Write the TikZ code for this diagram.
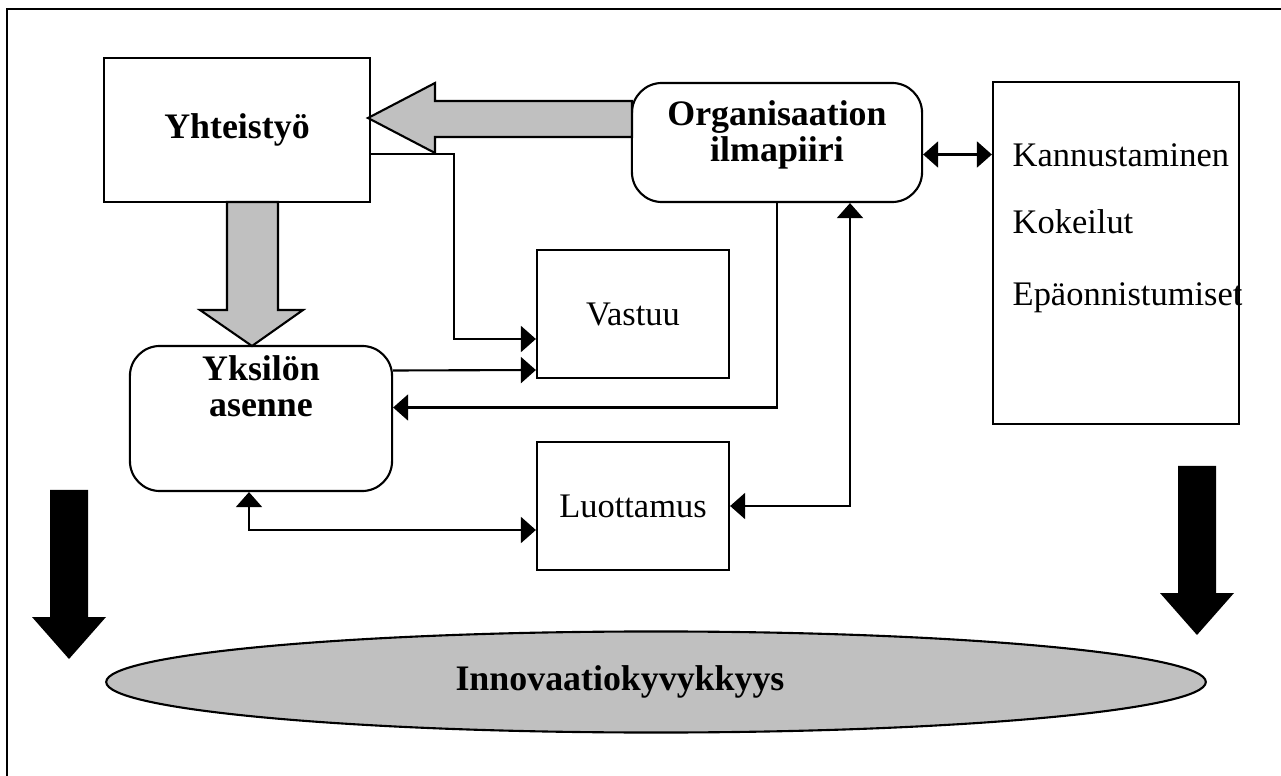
\documentclass[tikz,border=0pt]{standalone}
\usepackage{fontspec}
\setmainfont{Liberation Serif}
\usetikzlibrary{shapes.geometric, arrows.meta, positioning, calc}
\definecolor{arrowgray}{RGB}{192,192,192}

\begin{document}
\begin{tikzpicture}[
        x=0.01cm, y=-0.01cm,
        every node/.style={font=\fontsize{9.8}{12}\selectfont},
        box/.style={rectangle, draw, line width=0.6pt, inner sep=0pt},
        rbox/.style={box, rounded corners=0.3cm},
        title/.style={font=\fontsize{10.2}{10.2}\selectfont\bfseries, align=center},
        item/.style={anchor=west, inner sep=0pt},
        link/.style={line width=0.6pt, -{Triangle[length=0.15cm, width=0.26cm]}},
        both/.style={line width=0.6pt, {Triangle[length=0.15cm, width=0.26cm]}-{Triangle[length=0.15cm, width=0.26cm]}},
        grayarrow/.style={draw, line width=0.6pt, fill=arrowgray},
        blackarrow/.style={fill=black}
    ]
        \useasboundingbox (0,0) rectangle (1281,776);
        \draw[line width=0.8pt] (7,800) |- (1300,9);

        \node[box, minimum width=2.66cm, minimum height=1.44cm] (yht) at (237,130) {};
        \node[title] (yhtT) at (237,130) {Yhteistyö};
        \node[rbox, minimum width=2.90cm, minimum height=1.19cm] (org) at (777,142.5) {};
        \node[title] (orgT) at (777,135) {Organisaation\\ilmapiiri};
        \node[box, minimum width=2.46cm, minimum height=3.42cm] (kann) at (1116,253) {};
        \node[item] (kann1) at (1012,155) {Kannustaminen};
        \node[item] (kann2) at (1012,222) {Kokeilut};
        \node[item] (kann3) at (1012,298) {Epäonnistumiset};
        \node[box, minimum width=1.92cm, minimum height=1.28cm] (vas) at (633,314) {Vastuu};
        \node[rbox, minimum width=2.62cm, minimum height=1.45cm] (yks) at (261,418.5) {};
        \node[title] (yksT) at (261,386) {Yksilön\\asenne};
        \node[box, minimum width=1.92cm, minimum height=1.28cm] (luot) at (633,506) {Luottamus};
        \node[ellipse, draw, line width=0.6pt, fill=arrowgray, minimum width=10.99cm, minimum height=1.01cm] (inno) at (656,682) {};
        \node[title] (innoT) at (620,682) {Innovaatiokyvykkyys};

        \draw[grayarrow] (632,101) -- (435,101) -- (435,83) -- (368,118) -- (435,153) -- (435,137) -- (632,137) -- cycle;
        \draw[grayarrow] (227,202) -- (227,310) -- (200,310) -- (252,346) -- (303,310) -- (278,310) -- (278,202) -- cycle;
        \fill[blackarrow] (50,490) -- (88,490) -- (88,617) -- (106,617) -- (69,659) -- (32,617) -- (50,617) -- cycle;
        \fill[blackarrow] (1178,466) -- (1216,466) -- (1216,593) -- (1234,593) -- (1197,635) -- (1160,593) -- (1178,593) -- cycle;

        \coordinate (oe) at ($(org.east)+(0,12)$);
        \draw[both] (oe) -- (oe -| kann.west);
        \draw[link] ($(yht.east)+(0,24)$) -| ($(vas.west)+(-82,25)$) -- ($(vas.west)+(0,25)$);
        \draw[link] ($(yks.east)+(0,-48)$) -- ($(vas.west)+(0,56)$);
        \draw[link] (org.south) |- ($(yks.east)+(0,-11)$);
        \draw[both] (luot.east) -| ($(org.south)+(73,0)$);
        \draw[both] ($(yks.south)+(-12,0)$) |- ($(luot.west)+(0,24)$);
    \end{tikzpicture}
\end{document}
